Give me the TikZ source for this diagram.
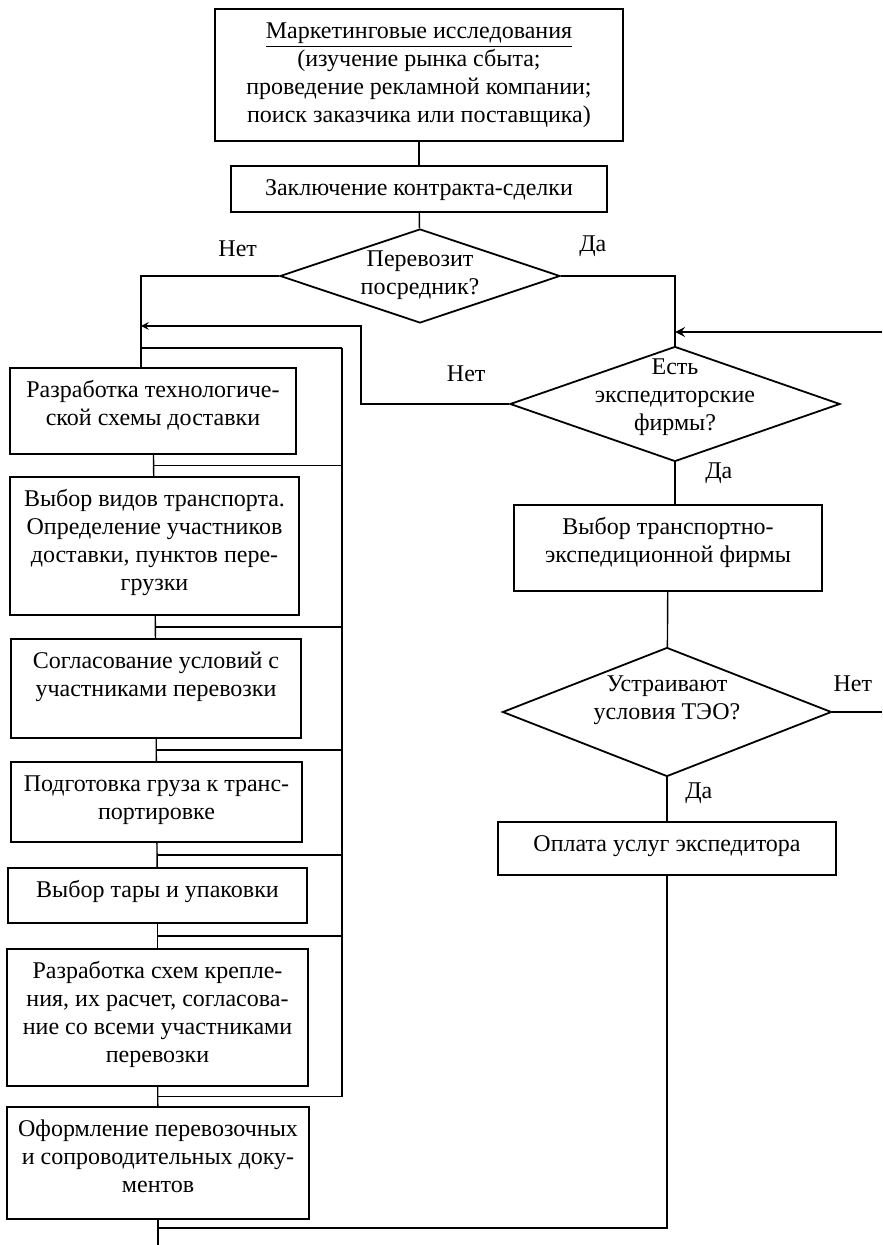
\documentclass[tikz,border=0pt]{standalone}
\usepackage{fontspec}
\setmainfont{Liberation Serif}
\usepackage{tikz}
\usetikzlibrary{shapes.geometric,calc,arrows}

\begin{document}
\begin{tikzpicture}[
    x=0.5pt, y=-0.5pt,
    font=\fontsize{12}{14}\selectfont,
    line width=0.7pt,
    stage/.style={draw, line width=0.9pt, inner xsep=3pt, inner ysep=5pt},
    decision/.style={draw, diamond, line width=0.9pt, inner sep=0pt},
    >=stealth
]
  \useasboundingbox (0,0) rectangle (882,1245);

  % top of the chart
  \node[stage] (mark) at (419,75) {\parbox[c][56pt][t]{198pt}{\centering\strut \underline{Маркетинговые исследования}\\(изучение рынка сбыта;\\проведение рекламной компании;\\поиск заказчика или поставщика)}};
  \node[stage] (contract) at (419,189) {\parbox[c][13pt][t]{182pt}{\centering\strut Заключение контракта-сделки}};
  \node[decision, minimum width=140pt, minimum height=47pt,
        label={[align=center, yshift=0.5pt]center:Перевозит\\посредник?}] (carrier) at (420,276) {};

  % left column
  \node[stage] (scheme) at (153,411) {\parbox[c][33pt][t]{137pt}{\centering\strut Разработка технологиче-\\ской схемы доставки}};
  \node[stage] (modes) at (154.5,546) {\parbox[c][59pt][t]{138.5pt}{\centering\strut Выбор видов транспорта.\\Определение участников\\доставки, пунктов пере-\\грузки}};
  \node[stage] (agree) at (156,688.5) {\parbox[c][39.5pt][t]{139pt}{\centering\strut Согласование условий с\\участниками перевозки}};
  \node[stage] (prep) at (156.5,802) {\parbox[c][30pt][t]{139.5pt}{\centering\strut Подготовка груза к транс-\\портировке}};
  \node[stage] (pack) at (157.5,895.5) {\parbox[c][17.5pt][t]{143.5pt}{\centering\strut Выбор тары и упаковки}};
  \node[stage] (fix) at (157.5,1017.5) {\parbox[c][58.5pt][t]{144.5pt}{\centering\strut Разработка схем крепле-\\ния, их расчет, согласова-\\ние со всеми участниками\\перевозки}};
  \node[stage] (docs) at (158,1163) {\parbox[c][46pt][t]{145pt}{\centering\strut Оформление перевозочных\\и сопроводительных доку-\\ментов}};

  % right column
  \node[decision, minimum width=165pt, minimum height=57.5pt,
        label={[align=center, yshift=3.5pt]center:Есть\\экспедиторские\\фирмы?}] (agents) at (675,404) {};
  \node[stage] (choose) at (668,548) {\parbox[c][33pt][t]{148pt}{\centering\strut Выбор транспортно-\\экспедиционной фирмы}};
  \node[decision, minimum width=164.5pt, minimum height=64.5pt,
        label={[align=center, yshift=6pt]center:Устраивают\\условия ТЭО?}] (terms) at (667,712) {};
  \node[stage] (pay) at (667,848.5) {\parbox[c][16.5pt][t]{163pt}{\centering\strut Оплата услуг экспедитора}};

  % helper points
  \coordinate (spine) at ([xshift=-6pt]scheme.north);
  \coordinate (ret) at (342,348);
  \coordinate (back) at (361,326);
  \coordinate (edge) at (882,332);
  \coordinate (bottom) at (0,1245);

  % main flow
  \draw (mark) -- (contract);
  \draw (contract) -- (carrier);
  \draw (carrier.west) -| (spine) node[pos=0.15, above=6pt] (no1) {Нет};
  \draw (carrier.east) -| (agents.north) node[pos=0.14, above=6pt] (yes1) {Да};

  % left column links and return line
  \draw (spine |- ret) -- (ret);
  \foreach \a/\b in {scheme/modes, modes/agree, agree/prep, prep/pack, pack/fix, fix/docs}
  {
    \draw (\a) -- (\b);
    \draw ($(\a.south)!0.5!(\b.north)$) -| (ret);
  }
  \draw (docs.south) -- (docs.south |- bottom);

  % right column links
  \draw[->, line width=1.2pt] (edge) -- (edge -| agents.north);
  \draw[->] (agents.west) -| (back) node[pos=0.145, above=7.5pt] (no2) {Нет} -- (back -| spine);
  \draw (agents.south) -- (agents.south |- choose.north) node[pos=0.26, right=11.5pt] (yes2) {Да};
  \draw (choose) -- (terms);
  \draw (terms.east) -- (terms.east -| edge) node[pos=0.41, above=6.5pt] (no3) {Нет};
  \draw (terms.south) -- (pay.north) node[pos=0.36, right=5.5pt] (yes3) {Да};
  \draw (pay.south) |- ([yshift=-4pt]docs.south);

\end{tikzpicture}
\end{document}
